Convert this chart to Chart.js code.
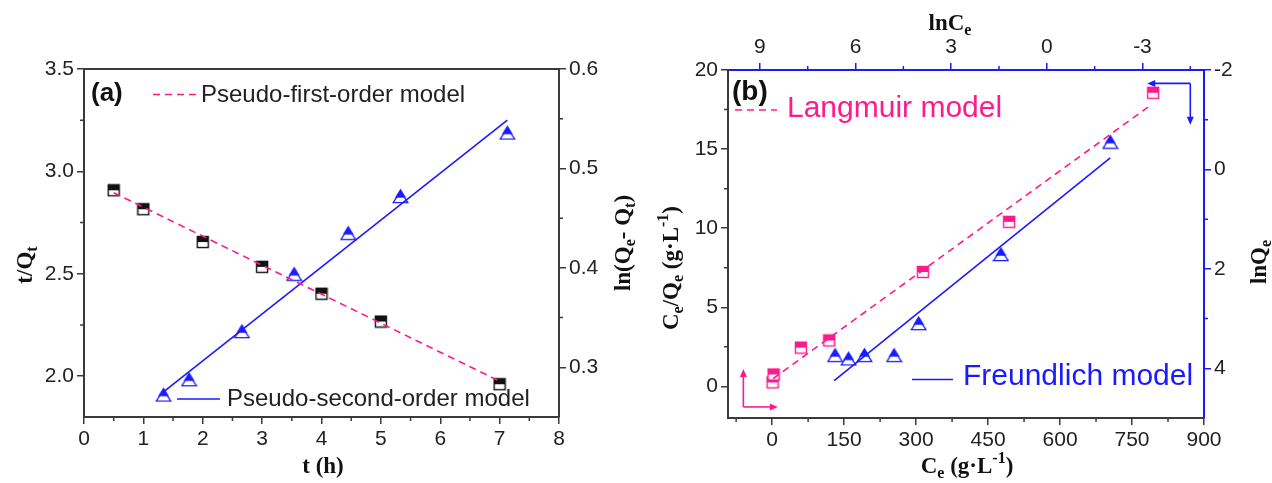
<!DOCTYPE html>
<html>
<head>
<meta charset="utf-8">
<script src="https://cdn.jsdelivr.net/npm/chart.js@4/dist/chart.umd.min.js"></script>
<style>
body { margin: 0; background: #fff; width: 1272px; height: 483px; overflow: hidden; position: relative; }
#ca { position: absolute; left: 0; top: 0; }
#cb { position: absolute; left: 640px; top: 0; }
</style>
</head>
<body>
<canvas id="ca" width="640" height="483"></canvas>
<canvas id="cb" width="632" height="483"></canvas>
<script>
// ---- panel (a): kinetics ----
const tFirst = [0.5, 1, 2, 3, 4, 5, 7];
const lnQeQt = [0.478, 0.459, 0.426, 0.401, 0.374, 0.346, 0.283];
const firstFitT = [0.5, 7];
const firstFitY = [0.4756, 0.286];

const tSecond = [1.34, 1.77, 2.66, 3.54, 4.45, 5.33, 7.13];
const tOverQt = [1.91, 1.985, 2.22, 2.50, 2.70, 2.88, 3.19];
const secondFitT = [1.35, 7.13];
const secondFitY = [1.925, 3.25];

const aXTicks = [0, 1, 2, 3, 4, 5, 6, 7, 8];
const aXMinor = [0.5, 1.5, 2.5, 3.5, 4.5, 5.5, 6.5, 7.5];
const aYLTicks = [2.0, 2.5, 3.0, 3.5];
const aYLMinor = [2.25, 2.75, 3.25];
const aYRTicks = [0.3, 0.4, 0.5, 0.6];
const aYRMinor = [0.35, 0.45, 0.55];

// ---- panel (b): isotherms ----
const ceL = [1, 3, 60, 119, 314, 494, 794];
const ceQeL = [0.25, 0.75, 2.45, 2.9, 7.23, 10.4, 18.56];
const langFitX = [2, 789];
const langFitY = [0.49, 17.78];

const lnCe = [6.64, 6.22, 5.72, 4.79, 4.02, 1.44, -1.99];
const lnQe = [3.73, 3.80, 3.73, 3.73, 3.09, 1.70, -0.56];
const freFitX = [6.67, -1.99];
const freFitY = [4.25, -0.23];

const bXTicks = [0, 150, 300, 450, 600, 750, 900];
const bXMinor = [-75, 75, 225, 375, 525, 675, 825];
const bYLTicks = [0, 5, 10, 15, 20];
const bYLMinor = [2.5, 7.5, 12.5, 17.5];
const bXTTicks = [9, 6, 3, 0, -3];
const bXTMinor = [7.5, 4.5, 1.5, -1.5, -4.5];
const bYRTicks = [-2, 0, 2, 4];
const bYRMinor = [-1, 1, 3];

const SANS = "'Liberation Sans', Arial, sans-serif";
const SERIF = "'Liberation Serif', 'Times New Roman', serif";
const PINK = '#ff1a8c';
const BLUE = '#1a1aff';
const AXIS = '#3a3a3a';
const TXT = '#222';

Chart.defaults.font.family = SANS;
Chart.defaults.animation = false;

function pts(xs, ys) {
  return xs.map((x, i) => ({x: x, y: ys[i]}));
}

// half filled square marker (filled copy over a hollow copy)
function squareMark(col) {
  const c = document.createElement('canvas');
  c.width = 14; c.height = 14;
  const g = c.getContext('2d');
  g.lineWidth = 1.4;
  g.fillStyle = '#fff';
  g.fillRect(1, 1, 12, 12);
  g.strokeStyle = col;
  g.strokeRect(1.5, 1.5, 11, 11);
  g.fillStyle = col;
  g.fillRect(1, 1, 12, 6);
  return c;
}

function triMark(col) {
  const c = document.createElement('canvas');
  c.width = 17; c.height = 16;
  const g = c.getContext('2d');
  g.lineWidth = 1.3;
  g.strokeStyle = col;
  g.beginPath();
  g.moveTo(8.5, 3.5); g.lineTo(15.8, 14.6); g.lineTo(1.2, 14.6); g.closePath();
  g.fillStyle = '#fff';
  g.fill();
  g.stroke();
  g.beginPath();
  g.moveTo(8.5, 0.8); g.lineTo(14, 9.8); g.lineTo(3, 9.8); g.closePath();
  g.fillStyle = col;
  g.fill();
  return c;
}

function axisCfg(pos, min, max, tickVals, color, size, fmt, extra) {
  return Object.assign({
    type: 'linear',
    position: pos,
    min: min,
    max: max,
    border: {display: true, color: color, width: 2},
    grid: {display: true, drawOnChartArea: false, drawTicks: true, tickLength: 7, color: color, lineWidth: 1.5},
    ticks: {color: TXT, font: {family: SANS, size: 21}, padding: 3, maxRotation: 0, autoSkip: false,
      callback: v => fmt(v)},
    afterBuildTicks: s => { s.ticks = tickVals.map(v => ({value: v})); },
    afterFit: s => { if (s.isHorizontal()) s.height = size; else s.width = size; }
  }, extra || {});
}

function minorTicks(ctx, scale, vals, side, area, color) {
  ctx.save();
  ctx.strokeStyle = color;
  ctx.lineWidth = 1.5;
  ctx.beginPath();
  vals.forEach(v => {
    const p = scale.getPixelForValue(v);
    if (side === 'left') { ctx.moveTo(area.left, p); ctx.lineTo(area.left - 4, p); }
    if (side === 'right') { ctx.moveTo(area.right, p); ctx.lineTo(area.right + 4, p); }
    if (side === 'bottom') { ctx.moveTo(p, area.bottom); ctx.lineTo(p, area.bottom + 4); }
    if (side === 'top') { ctx.moveTo(p, area.top); ctx.lineTo(p, area.top - 4); }
  });
  ctx.stroke();
  ctx.restore();
}

// text with sub (1) / sup (2) parts, centred at x,y
function rich(ctx, parts, x, y, size, color, rot) {
  ctx.save();
  ctx.translate(x, y);
  if (rot) ctx.rotate(rot);
  ctx.fillStyle = color;
  ctx.textAlign = 'left';
  ctx.textBaseline = 'alphabetic';
  const f = k => 'bold ' + (k ? Math.round(size * 0.68) : size) + 'px ' + SERIF;
  let w = 0;
  parts.forEach(p => { ctx.font = f(p[1]); w += ctx.measureText(p[0]).width; });
  let cx = -w / 2;
  parts.forEach(p => {
    ctx.font = f(p[1]);
    const dy = p[1] === 1 ? size * 0.25 : (p[1] === 2 ? -size * 0.4 : 0);
    ctx.fillText(p[0], cx, size * 0.33 + dy);
    cx += ctx.measureText(p[0]).width;
  });
  ctx.restore();
}

function sampleLine(ctx, x1, x2, y, color, dash) {
  ctx.save();
  ctx.strokeStyle = color;
  ctx.lineWidth = 1.6;
  ctx.setLineDash(dash || []);
  ctx.beginPath(); ctx.moveTo(x1, y); ctx.lineTo(x2, y); ctx.stroke();
  ctx.restore();
}

function label(ctx, s, x, y, size, color, bold) {
  ctx.save();
  ctx.font = (bold ? 'bold ' : '') + size + 'px ' + SANS;
  ctx.fillStyle = color;
  ctx.textAlign = 'left';
  ctx.textBaseline = 'alphabetic';
  ctx.fillText(s, x, y);
  ctx.restore();
}

function arrow(ctx, x1, y1, x2, y2, color) {
  const ang = Math.atan2(y2 - y1, x2 - x1);
  ctx.save();
  ctx.strokeStyle = color; ctx.fillStyle = color; ctx.lineWidth = 1.6;
  ctx.beginPath(); ctx.moveTo(x1, y1); ctx.lineTo(x2 - 6 * Math.cos(ang), y2 - 6 * Math.sin(ang)); ctx.stroke();
  ctx.translate(x2, y2); ctx.rotate(ang);
  ctx.beginPath(); ctx.moveTo(0, 0); ctx.lineTo(-8, -3.5); ctx.lineTo(-8, 3.5); ctx.closePath(); ctx.fill();
  ctx.restore();
}

const lineStyle = (col, dash) => ({showLine: true, pointRadius: 0, borderColor: col, borderWidth: 1.6,
  borderDash: dash || [], fill: false, order: 0});

// ---------- chart (a) ----------
const decoA = {
  id: 'decoA',
  afterDraw(chart) {
    const ctx = chart.ctx, a = chart.chartArea, s = chart.scales;
    ctx.save();
    ctx.strokeStyle = AXIS; ctx.lineWidth = 2;
    ctx.beginPath(); ctx.moveTo(a.left, a.top); ctx.lineTo(a.right, a.top); ctx.stroke();
    ctx.restore();
    minorTicks(ctx, s.x, aXMinor, 'bottom', a, AXIS);
    minorTicks(ctx, s.y, aYLMinor, 'left', a, AXIS);
    minorTicks(ctx, s.y2, aYRMinor, 'right', a, AXIS);

    label(ctx, '(a)', 91, 101, 26, '#111', true);
    sampleLine(ctx, 153, 197, 94.5, PINK, [7, 5]);
    label(ctx, 'Pseudo-first-order model', 201, 102, 24, TXT);
    sampleLine(ctx, 177, 220, 399, BLUE);
    label(ctx, 'Pseudo-second-order model', 227, 405.5, 24, TXT);

    rich(ctx, [['t/Q', 0], ['t', 1]], 24, 265, 23, '#111', -Math.PI / 2);
    rich(ctx, [['t (h)', 0]], 323, 465, 23, '#111');
    rich(ctx, [['ln(Q', 0], ['e', 1], ['- Q', 0], ['t', 1], [')', 0]], 622, 243, 23, '#111', -Math.PI / 2);
  }
};

new Chart(document.getElementById('ca'), {
  type: 'scatter',
  data: {
    datasets: [
      Object.assign({data: pts(firstFitT, firstFitY), yAxisID: 'y2'}, lineStyle(PINK, [7, 5])),
      Object.assign({data: pts(secondFitT, secondFitY), yAxisID: 'y'}, lineStyle(BLUE)),
      {data: pts(tFirst, lnQeQt), yAxisID: 'y2', pointStyle: squareMark('#111'), order: 1},
      {data: pts(tSecond, tOverQt), yAxisID: 'y', pointStyle: triMark(BLUE), order: 1}
    ]
  },
  options: {
    responsive: false,
    layout: {padding: {top: 69, left: 0, right: 0, bottom: 0}},
    plugins: {legend: {display: false}, tooltip: {enabled: false}},
    scales: {
      x: axisCfg('bottom', 0, 8, aXTicks, AXIS, 66, v => String(v)),
      y: axisCfg('left', 1.8, 3.5, aYLTicks, AXIS, 84, v => v.toFixed(1)),
      y2: axisCfg('right', 0.25, 0.6, aYRTicks, AXIS, 81, v => v.toFixed(1))
    }
  },
  plugins: [decoA]
});

// ---------- chart (b) ----------
const decoB = {
  id: 'decoB',
  afterDraw(chart) {
    const ctx = chart.ctx, a = chart.chartArea, s = chart.scales;
    minorTicks(ctx, s.x, bXMinor, 'bottom', a, AXIS);
    minorTicks(ctx, s.y, bYLMinor, 'left', a, AXIS);
    minorTicks(ctx, s.xt, bXTMinor, 'top', a, BLUE);
    minorTicks(ctx, s.yr, bYRMinor, 'right', a, BLUE);

    label(ctx, '(b)', 92, 100, 28, '#111', true);
    sampleLine(ctx, 95, 137, 110, PINK, [7, 5]);
    label(ctx, 'Langmuir model', 147, 116.5, 30, PINK);
    sampleLine(ctx, 272, 313, 379.5, BLUE);
    label(ctx, 'Freundlich model', 323, 385, 30, BLUE);

    // axis hint arrows
    const ox = s.x.getPixelForValue(-60), oy = s.y.getPixelForValue(-1.3);
    arrow(ctx, ox, oy, ox, s.y.getPixelForValue(1.1), PINK);
    arrow(ctx, ox, oy, s.x.getPixelForValue(12), oy, PINK);
    const cx = s.xt.getPixelForValue(-4.5), cy = s.yr.getPixelForValue(-1.73);
    arrow(ctx, cx, cy, s.xt.getPixelForValue(-3.15), cy, BLUE);
    arrow(ctx, cx, cy, cx, s.yr.getPixelForValue(-0.9), BLUE);

    rich(ctx, [['C', 0], ['e', 1], ['/Q', 0], ['e', 1], [' (g\u00b7L', 0], ['-1', 2], [')', 0]], 30, 268, 23, '#111', -Math.PI / 2);
    rich(ctx, [['C', 0], ['e', 1], [' (g\u00b7L', 0], ['-1', 2], [')', 0]], 327, 465, 23, '#111');
    rich(ctx, [['lnC', 0], ['e', 1]], 310, 22, 23, '#111');
    rich(ctx, [['lnQ', 0], ['e', 1]], 618, 262, 23, '#111', -Math.PI / 2);
  }
};

new Chart(document.getElementById('cb'), {
  type: 'scatter',
  data: {
    datasets: [
      Object.assign({data: pts(langFitX, langFitY), xAxisID: 'x', yAxisID: 'y'}, lineStyle(PINK, [7, 5])),
      Object.assign({data: pts(freFitX, freFitY), xAxisID: 'xt', yAxisID: 'yr'}, lineStyle(BLUE)),
      {data: pts(ceL, ceQeL), xAxisID: 'x', yAxisID: 'y', pointStyle: squareMark(PINK), order: 1},
      {data: pts(lnCe, lnQe), xAxisID: 'xt', yAxisID: 'yr', pointStyle: triMark(BLUE), order: 1}
    ]
  },
  options: {
    responsive: false,
    layout: {padding: 0},
    plugins: {legend: {display: false}, tooltip: {enabled: false}},
    scales: {
      x: axisCfg('bottom', -92, 900, bXTicks, AXIS, 65, v => String(v), {axis: 'x'}),
      xt: axisCfg('top', -4.93, 10, bXTTicks, BLUE, 70, v => String(v), {axis: 'x', reverse: true}),
      y: axisCfg('left', -2, 20, bYLTicks, AXIS, 88, v => String(v), {axis: 'y'}),
      yr: axisCfg('right', -2, 5, bYRTicks, BLUE, 68, v => String(v), {axis: 'y', reverse: true})
    }
  },
  plugins: [decoB]
});
</script>
</body>
</html>
